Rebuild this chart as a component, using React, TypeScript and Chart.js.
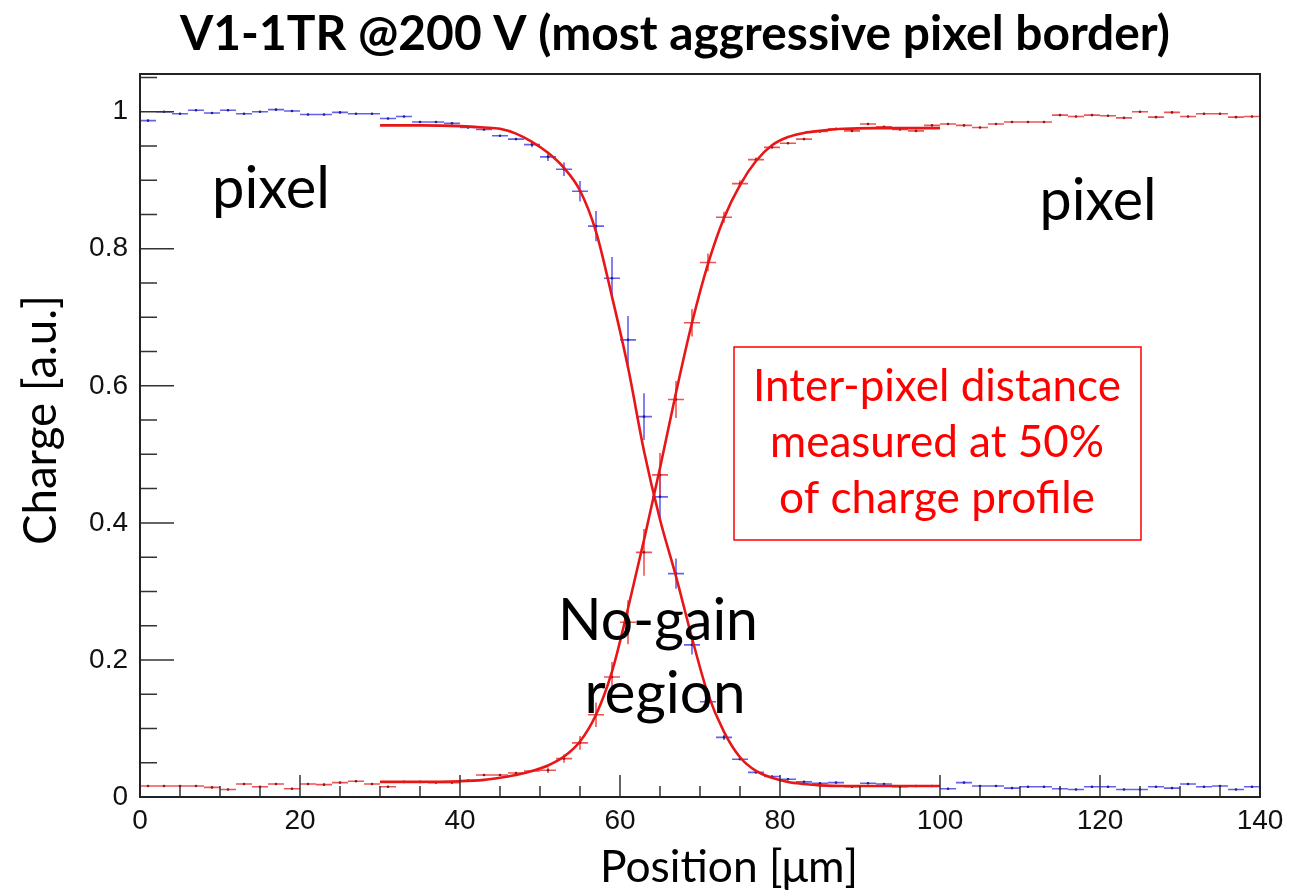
import { useEffect, useRef } from 'react';
import { Chart, registerables } from 'chart.js';

Chart.register(...registerables);

// ---------- data ----------
const binCenters = [
  1, 3, 5, 7, 9, 11, 13, 15, 17, 19,
  21, 23, 25, 27, 29, 31, 33, 35, 37, 39,
  41, 43, 45, 47, 49, 51, 53, 55, 57, 59,
  61, 63, 65, 67, 69, 71, 73, 75, 77, 79,
  81, 83, 85, 87, 89, 91, 93, 95, 97, 99,
  101, 103, 105, 107, 109, 111, 113, 115, 117, 119,
  121, 123, 125, 127, 129, 131, 133, 135, 137, 139,
];

const blueCharge = [
  0.987, 1.0, 0.997, 1.002, 0.998, 1.002, 0.997, 1.0, 1.003, 1.001,
  0.996, 0.996, 0.999, 0.997, 0.997, 0.99, 0.993, 0.985, 0.985, 0.983,
  0.977, 0.974, 0.965, 0.96, 0.952, 0.934, 0.916, 0.884, 0.833, 0.757,
  0.667, 0.555, 0.438, 0.326, 0.222, 0.139, 0.087, 0.055, 0.036, 0.03,
  0.026, 0.022, 0.02, 0.021, 0.015, 0.02, 0.019, 0.015, 0.016, 0.016,
  0.012, 0.021, 0.016, 0.016, 0.013, 0.015, 0.015, 0.012, 0.011, 0.015,
  0.015, 0.011, 0.011, 0.015, 0.013, 0.019, 0.015, 0.016, 0.011, 0.015,
];

const redCharge = [
  0.016, 0.016, 0.016, 0.016, 0.014, 0.011, 0.019, 0.015, 0.019, 0.012,
  0.019, 0.018, 0.021, 0.023, 0.019, 0.015, 0.022, 0.022, 0.021, 0.021,
  0.024, 0.032, 0.032, 0.035, 0.038, 0.039, 0.056, 0.079, 0.12, 0.175,
  0.255, 0.357, 0.47, 0.58, 0.692, 0.78, 0.846, 0.895, 0.93, 0.948,
  0.954, 0.96, 0.971, 0.975, 0.972, 0.982, 0.978, 0.974, 0.972, 0.98,
  0.982, 0.98, 0.977, 0.982, 0.985, 0.985, 0.985, 0.995, 0.993, 0.995,
  0.994, 0.991, 1.0, 0.992, 0.999, 0.993, 0.997, 0.997, 0.992, 0.993,
];

const blueErrBins = [49, 51, 53, 55, 57, 59, 61, 63, 65, 67, 69, 71, 73];
const blueErrs = [0.004, 0.006, 0.01, 0.015, 0.022, 0.031, 0.035, 0.034, 0.031, 0.022, 0.014, 0.008, 0.004];
const redErrBins = [51, 53, 55, 57, 59, 61, 63, 65, 67, 69, 71, 73, 75, 77];
const redErrs = [0.004, 0.006, 0.01, 0.018, 0.022, 0.032, 0.034, 0.032, 0.027, 0.02, 0.013, 0.008, 0.005, 0.003];

const fitX = [30, 35, 40, 43, 45, 47, 49, 51, 53, 55, 57, 59, 61, 63, 65, 67, 69, 71, 73, 75, 77, 79, 81, 83, 85, 88, 92, 96, 100];
const fitFalling = [0.98, 0.98, 0.979, 0.977, 0.975, 0.968, 0.956, 0.94, 0.918, 0.885, 0.825, 0.73, 0.627, 0.505, 0.405, 0.322, 0.232, 0.15, 0.095, 0.058, 0.038, 0.028, 0.022, 0.019, 0.017, 0.016, 0.016, 0.016, 0.016];
const fitRising = [0.022, 0.022, 0.023, 0.025, 0.028, 0.032, 0.038, 0.046, 0.059, 0.081, 0.12, 0.183, 0.275, 0.375, 0.48, 0.59, 0.692, 0.778, 0.845, 0.893, 0.928, 0.951, 0.963, 0.969, 0.972, 0.975, 0.976, 0.976, 0.976];

const xTickValues = [0, 20, 40, 60, 80, 100, 120, 140];
const titleText = 'V1-1TR @200 V (most aggressive pixel border)';
const xTitle = 'Position [μm]';
const yTitle = 'Charge [a.u.]';
const boxLines = ['Inter-pixel distance', 'measured at 50%', 'of charge profile'];

// ---------- styles ----------
const BLUE_BAR = 'rgba(70,70,235,0.85)';
const BLUE_DOT = '#20208a';
const RED_BAR = 'rgba(235,55,55,0.85)';
const RED_DOT = '#8a1a1a';
const FIT_RED = 'rgb(232,22,22)';
const BIN_HALF = 1;

function fitFont(ctx: CanvasRenderingContext2D, text: string, weight: string, family: string, width: number) {
  ctx.font = `${weight} 100px ${family}`;
  const w = ctx.measureText(text).width;
  const size = (100 * width) / w;
  return `${weight} ${size.toFixed(2)}px ${family}`;
}

function drawFitted(ctx: CanvasRenderingContext2D, text: string, weight: string, family: string, width: number, cx: number, baseline: number, color: string) {
  ctx.save();
  ctx.font = fitFont(ctx, text, weight, family, width);
  ctx.fillStyle = color;
  ctx.textAlign = 'center';
  ctx.textBaseline = 'alphabetic';
  ctx.fillText(text, cx, baseline);
  ctx.restore();
}

const overlayPlugin = {
  id: 'rootOverlay',
  beforeDatasetsDraw(chart: any) {
    const { ctx, scales } = chart;
    const xs = scales.x;
    const ys = scales.y;
    const drawSeries = (vals: number[], errBins: number[], errs: number[], color: string) => {
      ctx.save();
      ctx.strokeStyle = color;
      ctx.lineWidth = 1.6;
      ctx.beginPath();
      binCenters.forEach((c, i) => {
        const py = ys.getPixelForValue(vals[i]);
        ctx.moveTo(xs.getPixelForValue(c - BIN_HALF), py);
        ctx.lineTo(xs.getPixelForValue(c + BIN_HALF), py);
      });
      errBins.forEach((c, i) => {
        const idx = binCenters.indexOf(c);
        const v = vals[idx];
        const px = xs.getPixelForValue(c);
        ctx.moveTo(px, ys.getPixelForValue(v - errs[i]));
        ctx.lineTo(px, ys.getPixelForValue(v + errs[i]));
      });
      ctx.stroke();
      ctx.restore();
    };
    drawSeries(blueCharge, blueErrBins, blueErrs, BLUE_BAR);
    drawSeries(redCharge, redErrBins, redErrs, RED_BAR);
  },
  afterDraw(chart: any) {
    const { ctx, chartArea, scales } = chart;
    const xs = scales.x;
    const ys = scales.y;
    const { left, right, top, bottom } = chartArea;

    // ticks (inside, ROOT style)
    ctx.save();
    ctx.strokeStyle = '#333';
    ctx.lineWidth = 1.5;
    ctx.beginPath();
    for (let v = 0; v <= 140; v += 5) {
      const px = xs.getPixelForValue(v);
      const len = v % 20 === 0 ? 22 : 11;
      ctx.moveTo(px, bottom);
      ctx.lineTo(px, bottom - len);
    }
    for (let k = 0; k <= 21; k++) {
      const v = k * 0.05;
      const py = ys.getPixelForValue(v);
      const len = k % 4 === 0 ? 34 : 17;
      ctx.moveTo(left, py);
      ctx.lineTo(left + len, py);
    }
    ctx.stroke();
    // frame
    ctx.strokeStyle = '#222';
    ctx.lineWidth = 2;
    ctx.strokeRect(left, top, right - left, bottom - top);
    ctx.restore();

    // title
    drawFitted(ctx, titleText, 'bold', 'Lato', 990, 675, 50, '#000');
    // axis titles
    drawFitted(ctx, xTitle, 'normal', 'Lato', 258, 729, 882, '#000');
    ctx.save();
    ctx.translate(56, 420);
    ctx.rotate(-Math.PI / 2);
    drawFitted(ctx, yTitle, 'normal', 'Lato', 250, 0, 0, '#000');
    ctx.restore();

    // annotations
    drawFitted(ctx, 'pixel', 'normal', 'Lato', 118, 271, 208, '#000');
    drawFitted(ctx, 'pixel', 'normal', 'Lato', 117, 1098, 220, '#000');
    drawFitted(ctx, 'No-gain', 'normal', 'Lato', 200, 658, 640, '#000');
    drawFitted(ctx, 'region', 'normal', 'Lato', 161, 665, 713, '#000');

    // red box
    ctx.save();
    ctx.strokeStyle = '#ff0000';
    ctx.lineWidth = 1.5;
    ctx.strokeRect(734, 347, 407, 193);
    ctx.restore();
    drawFitted(ctx, boxLines[0], 'normal', 'Lato', 368, 937, 401, '#ff0000');
    drawFitted(ctx, boxLines[1], 'normal', 'Lato', 334, 937, 457, '#ff0000');
    drawFitted(ctx, boxLines[2], 'normal', 'Lato', 316, 937, 513, '#ff0000');
  },
};

export default function App() {
  const ref = useRef<HTMLCanvasElement>(null);

  useEffect(() => {
    let chart: Chart | null = null;
    let cancelled = false;
    const build = () => {
      if (cancelled || !ref.current) return;
      const pts = (xv: number[], yv: number[]) => xv.map((x, i) => ({ x, y: yv[i] }));
      chart = new Chart(ref.current, {
        type: 'scatter',
        data: {
          datasets: [
            {
              type: 'line',
              label: 'fit rising',
              data: pts(fitX, fitRising),
              borderColor: FIT_RED,
              borderWidth: 2.6,
              pointRadius: 0,
              fill: false,
              cubicInterpolationMode: 'monotone',
            } as any,
            {
              type: 'line',
              label: 'fit falling',
              data: pts(fitX, fitFalling),
              borderColor: FIT_RED,
              borderWidth: 2.6,
              pointRadius: 0,
              fill: false,
              cubicInterpolationMode: 'monotone',
            } as any,
            {
              label: 'blue',
              data: pts(binCenters, blueCharge),
              backgroundColor: BLUE_DOT,
              borderColor: BLUE_DOT,
              pointRadius: 1.3,
              borderWidth: 0,
            },
            {
              label: 'red',
              data: pts(binCenters, redCharge),
              backgroundColor: RED_DOT,
              borderColor: RED_DOT,
              pointRadius: 1.3,
              borderWidth: 0,
            },
          ],
        },
        options: {
          responsive: false,
          devicePixelRatio: 1,
          animation: false,
          layout: { padding: { top: 74, right: 47, left: 0, bottom: 0 } },
          plugins: { legend: { display: false }, tooltip: { enabled: false }, title: { display: false } },
          scales: {
            x: {
              type: 'linear',
              min: 0,
              max: 140,
              afterFit: (s: any) => { s.height = 98; },
              afterBuildTicks: (s: any) => { s.ticks = xTickValues.map((v) => ({ value: v })); },
              grid: { display: false, drawTicks: false },
              border: { display: false },
              ticks: {
                font: { family: 'Liberation Sans', size: 28 },
                color: '#111',
                padding: 7,
                maxRotation: 0,
                autoSkip: false,
              },
            },
            y: {
              type: 'linear',
              min: 0,
              max: 1.055,
              afterFit: (s: any) => { s.width = 140; },
              grid: { display: false, drawTicks: false },
              border: { display: false },
              ticks: {
                stepSize: 0.2,
                includeBounds: false,
                font: { family: 'Liberation Sans', size: 28 },
                color: '#111',
                padding: 12,
                callback: (v: any) => String(Number(Number(v).toFixed(2))),
              },
            },
          },
        },
        plugins: [overlayPlugin],
      } as any);
    };
    const fonts = (document as any).fonts;
    if (fonts && fonts.load) {
      Promise.all([
        fonts.load('bold 36px Lato'),
        fonts.load('normal 36px Lato'),
        fonts.load('normal 28px "Liberation Sans"'),
      ]).then(build, build);
    } else {
      build();
    }
    return () => {
      cancelled = true;
      if (chart) chart.destroy();
    };
  }, []);

  return (
    <div style={{ position: 'absolute', left: 0, top: 0, width: 1307, height: 895, background: '#fff' }}>
      <canvas ref={ref} width={1307} height={895} style={{ display: 'block', width: 1307, height: 895 }} />
    </div>
  );
}
